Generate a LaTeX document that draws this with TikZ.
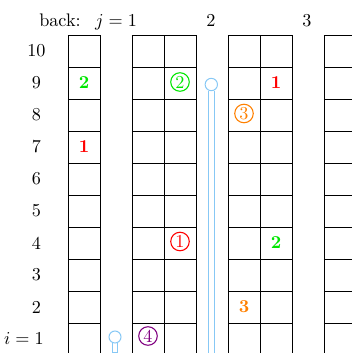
\documentclass[tikz,border=0pt]{standalone}
\definecolor{polecol}{RGB}{135,200,245}
\definecolor{myorange}{RGB}{255,128,0}
\definecolor{mypurple}{RGB}{128,0,128}
\definecolor{mygreen}{RGB}{0,230,0}
\definecolor{myred}{RGB}{255,0,0}
\begin{document}
\begin{tikzpicture}[x=0.55pt,y=-0.55pt,
  gridline/.style={black,line width=0.5pt},
  polestyle/.style={polecol,line width=0.55pt},
  circnum/.style={circle,draw,line width=0.6pt,inner sep=0pt,minimum size=10.2pt,font=\normalsize},
  boldnum/.style={font=\bfseries,inner sep=0pt},
  lab/.style={inner sep=0pt}]
\useasboundingbox (0,0) rectangle (352,353);
\clip (0,0) rectangle (352,353);
% grid
\foreach \y in {35,67,...,355} {
  \draw[gridline] (68,\y) -- (100,\y);
  \draw[gridline] (132,\y) -- (196,\y);
  \draw[gridline] (228,\y) -- (292,\y);
  \draw[gridline] (324,\y) -- (388,\y);
}
\foreach \x in {68,100,132,164,196,228,260,292,324,356}
  \draw[gridline] (\x,35) -- (\x,360);
% top labels
\node[lab,anchor=base] (back) at (60,26) {back:};
\node[lab,anchor=base] (j1) at (116,26) {$j=1$};
\node[lab,anchor=base] (j2) at (211,26) {2};
\node[lab,anchor=base] (j3) at (307,26) {3};
% row labels
\foreach \k in {2,...,10}
  \node[lab] (r\k) at (36.5,{371-32*\k}) {\k};
\node[lab,anchor=east] (r1) at (44,339) {$i=1$};
% poles
\draw[polestyle] (115,337) circle[radius=3.3pt];
\draw[polestyle] (112.3,343) -- (112.3,352) -- (117.5,352) -- (117.5,343);
\draw[polestyle] (211.3,84.5) circle[radius=3.4pt];
\draw[polestyle] (208.4,90.8) -- (208.4,360);
\draw[polestyle] (214.2,90.8) -- (214.2,360);
% bold numbers
\node[boldnum,text=mygreen] (b2a) at (84,83) {2};
\node[boldnum,text=myred] (b1a) at (84,147) {1};
\node[boldnum,text=myred] (b1b) at (276,83) {1};
\node[boldnum,text=mygreen] (b2b) at (276,243) {2};
\node[boldnum,text=myorange] (b3) at (244,307) {3};
% circled numbers
\node[circnum,draw=mygreen,text=mygreen] (c2) at (180,82) {2};
\node[circnum,draw=myred,text=myred] (c1) at (180,241.5) {1};
\node[circnum,draw=myorange,text=myorange] (c3) at (244,113.5) {3};
\node[circnum,draw=mypurple,text=mypurple] (c4) at (148,336) {4};
\end{tikzpicture}
\end{document}
